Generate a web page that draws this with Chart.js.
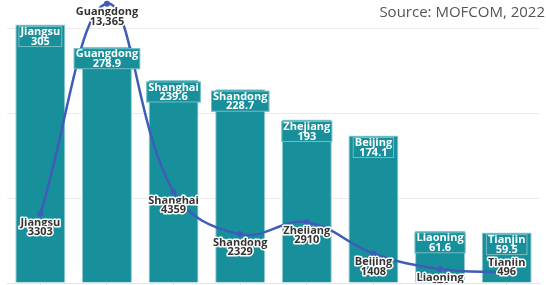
<!DOCTYPE html>
<html>
<head>
<meta charset="utf-8">
<script src="https://cdn.jsdelivr.net/npm/chart.js@4.4.0/dist/chart.umd.min.js"></script>
<style>
  html, body { margin: 0; padding: 0; background: #fff; overflow: hidden; }
  #wrap { width: 546px; height: 285px; overflow: hidden; position: relative; }
  #c { display: block; margin-top: -4px; }
</style>
</head>
<body>
<div id="wrap"><canvas id="c" width="546" height="291"></canvas></div>
<script>
const categories = ["Jiangsu", "Guangdong", "Shanghai", "Shandong", "Zhejiang", "Beijing", "Liaoning", "Tianjin"];
const barValues = [305, 278.9, 239.6, 228.7, 193, 174.1, 61.6, 59.5];
const lineValues = [3303, 13365, 4359, 2329, 2910, 1408, 670, 496];
const lineLabels = ["3303", "13,365", "4359", "2329", "2910", "1408", "670", "496"];
const barLabels = ["305", "278.9", "239.6", "228.7", "193", "174.1", "61.6", "59.5"];
const sourceText = "Source: MOFCOM, 2022";

const TEAL = "#17909b";
const LINE = "#3f5db8";
const FONT = "'Open Sans', 'Noto Sans', sans-serif";
const SHIFT = 4; // canvas is moved up by this many pixels

const labelPlugin = {
  id: "labels",
  afterDatasetsDraw(chart) {
    const ctx = chart.ctx;
    ctx.save();
    ctx.textAlign = "center";
    ctx.textBaseline = "middle";
    ctx.font = "bold 11px " + FONT;
    // bar labels
    const barMeta = chart.getDatasetMeta(0);
    barMeta.data.forEach((el, i) => {
      const lines = [categories[i], barLabels[i]];
      const w = Math.max(...lines.map(t => ctx.measureText(t).width)) + 4;
      const top = el.y + 1.5;
      const h = 21;
      ctx.fillStyle = TEAL;
      ctx.strokeStyle = "rgba(255,255,255,0.4)";
      ctx.lineWidth = 1;
      ctx.fillRect(el.x - w / 2, top, w, h);
      ctx.strokeRect(el.x - w / 2 + 0.5, top + 0.5, w - 1, h - 1);
      ctx.fillStyle = "#ffffff";
      ctx.fillText(lines[0], el.x, top + 6);
      ctx.fillText(lines[1], el.x, top + 15.5);
    });
    // line labels, clipped at the bottom of the plot area
    const a = chart.chartArea;
    ctx.save();
    ctx.beginPath();
    ctx.rect(0, 0, chart.width, a.bottom);
    ctx.clip();
    const lineMeta = chart.getDatasetMeta(1);
    const n = lineMeta.data.length;
    lineMeta.data.forEach((el, i) => {
      const lines = [categories[i], lineLabels[i]];
      // last label is centred on its point, the others sit just below
      const y0 = i === n - 1 ? el.y - 10 : el.y + 8.5;
      ctx.lineJoin = "round";
      ctx.strokeStyle = "#ffffff";
      ctx.lineWidth = 3;
      ctx.fillStyle = "#333333";
      lines.forEach((t, k) => {
        ctx.strokeText(t, el.x, y0 + k * 9.5);
        ctx.fillText(t, el.x, y0 + k * 9.5);
      });
    });
    ctx.restore();
    // source
    ctx.textAlign = "right";
    ctx.font = "15px " + FONT;
    ctx.fillStyle = "#555555";
    ctx.fillText(sourceText, 545, 13 + SHIFT);
    ctx.restore();
  }
};

new Chart(document.getElementById("c"), {
  data: {
    labels: categories,
    datasets: [
      {
        type: "bar",
        data: barValues,
        backgroundColor: TEAL,
        borderColor: "#8fcad0",
        borderWidth: 1,
        categoryPercentage: 0.75,
        barPercentage: 1,
        yAxisID: "y",
        order: 2
      },
      {
        type: "line",
        data: lineValues,
        borderColor: LINE,
        backgroundColor: LINE,
        borderWidth: 2.5,
        pointRadius: 3,
        pointBackgroundColor: LINE,
        pointBorderWidth: 0,
        tension: 0.4,
        clip: false,
        yAxisID: "y1",
        order: 1
      }
    ]
  },
  options: {
    responsive: false,
    animation: false,
    devicePixelRatio: 1,
    layout: { padding: { left: 7, right: 6, top: 0, bottom: 0 } },
    plugins: { legend: { display: false }, tooltip: { enabled: false }, title: { display: false } },
    scales: {
      x: {
        offset: true,
        ticks: { display: false },
        grid: { drawOnChartArea: false, offset: false, tickLength: 2, color: "#dddddd" },
        border: { color: "#e6e6e6" }
      },
      y: {
        min: 0,
        max: 334,
        ticks: { display: false, stepSize: 100 },
        grid: {
          drawTicks: false,
          color: (c) => (c.tick && c.tick.value % 100 === 0) ? "#ececec" : "rgba(0,0,0,0)"
        },
        border: { display: false }
      },
      y1: {
        display: false,
        min: 0,
        max: 13540
      }
    }
  },
  plugins: [labelPlugin]
});
</script>
</body>
</html>
